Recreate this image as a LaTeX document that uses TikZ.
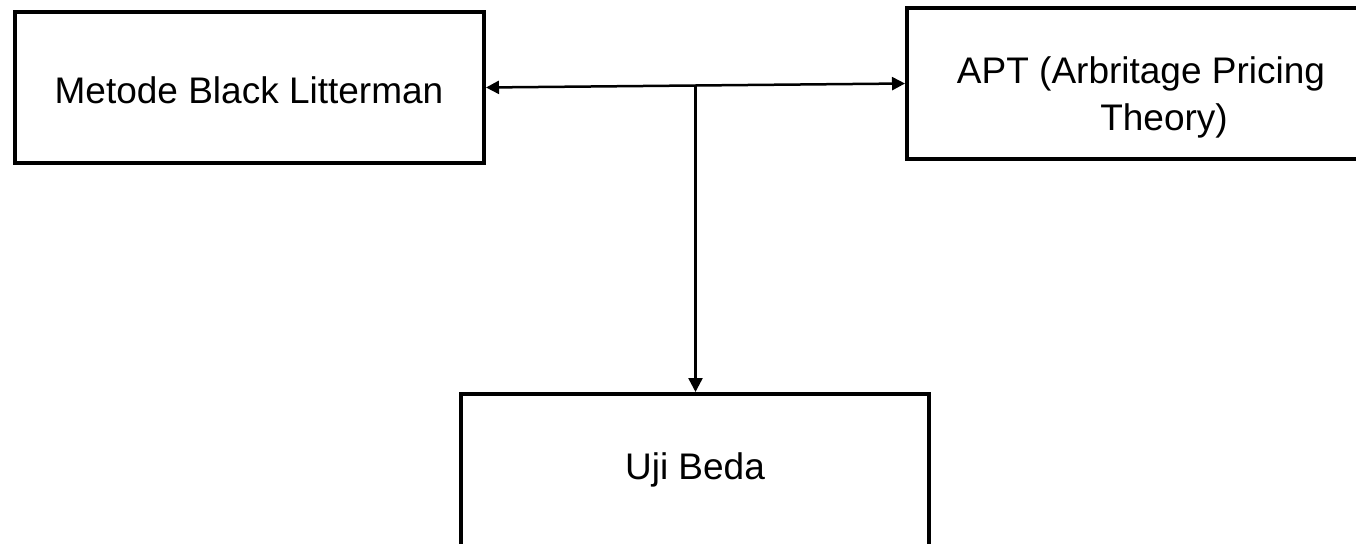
\documentclass[tikz,border=0pt]{standalone}
\usepackage{fontspec}
\setmainfont{Liberation Sans}
\usetikzlibrary{arrows.meta,calc}
\begin{document}
\begin{tikzpicture}[x=1pt,y=-1pt,
  box/.style={draw=black,line width=4pt,rectangle,inner sep=0pt},
  lbl/.style={font=\fontsize{37}{47}\selectfont,align=center,inner sep=0pt},
  conn/.style={line width=2.5pt,-{Triangle[length=14pt,width=14pt]}},
  conn2/.style={line width=2.5pt,{Triangle[length=13pt,width=13pt]}-{Triangle[length=13pt,width=13pt]}}]
\clip (0,0) rectangle (1356,543);
\fill[white] (0,0) rectangle (1356,543);
\node[box,minimum width=469pt,minimum height=151pt] (L) at (249.5,87.5) {};
\node[lbl] (Lt) at (249,90) {Metode Black Litterman};
\node[box,minimum width=470pt,minimum height=151pt] (R) at (1142,83.5) {};
\node[lbl] (Rt) at (1141,97) {APT (Arbritage Pricing\\\hspace*{46pt}Theory)};
\node[box,minimum width=468pt,minimum height=153pt] (U) at (695,470.5) {};
\node[lbl] (Ut) at (695,470) {Uji Beda};
\coordinate (J) at ($(L.east)!0.5!(R.west)$);
\draw[conn2] (L.east) -- (R.west);
\draw[conn] (J) -- (J |- U.north);
\end{tikzpicture}
\end{document}
